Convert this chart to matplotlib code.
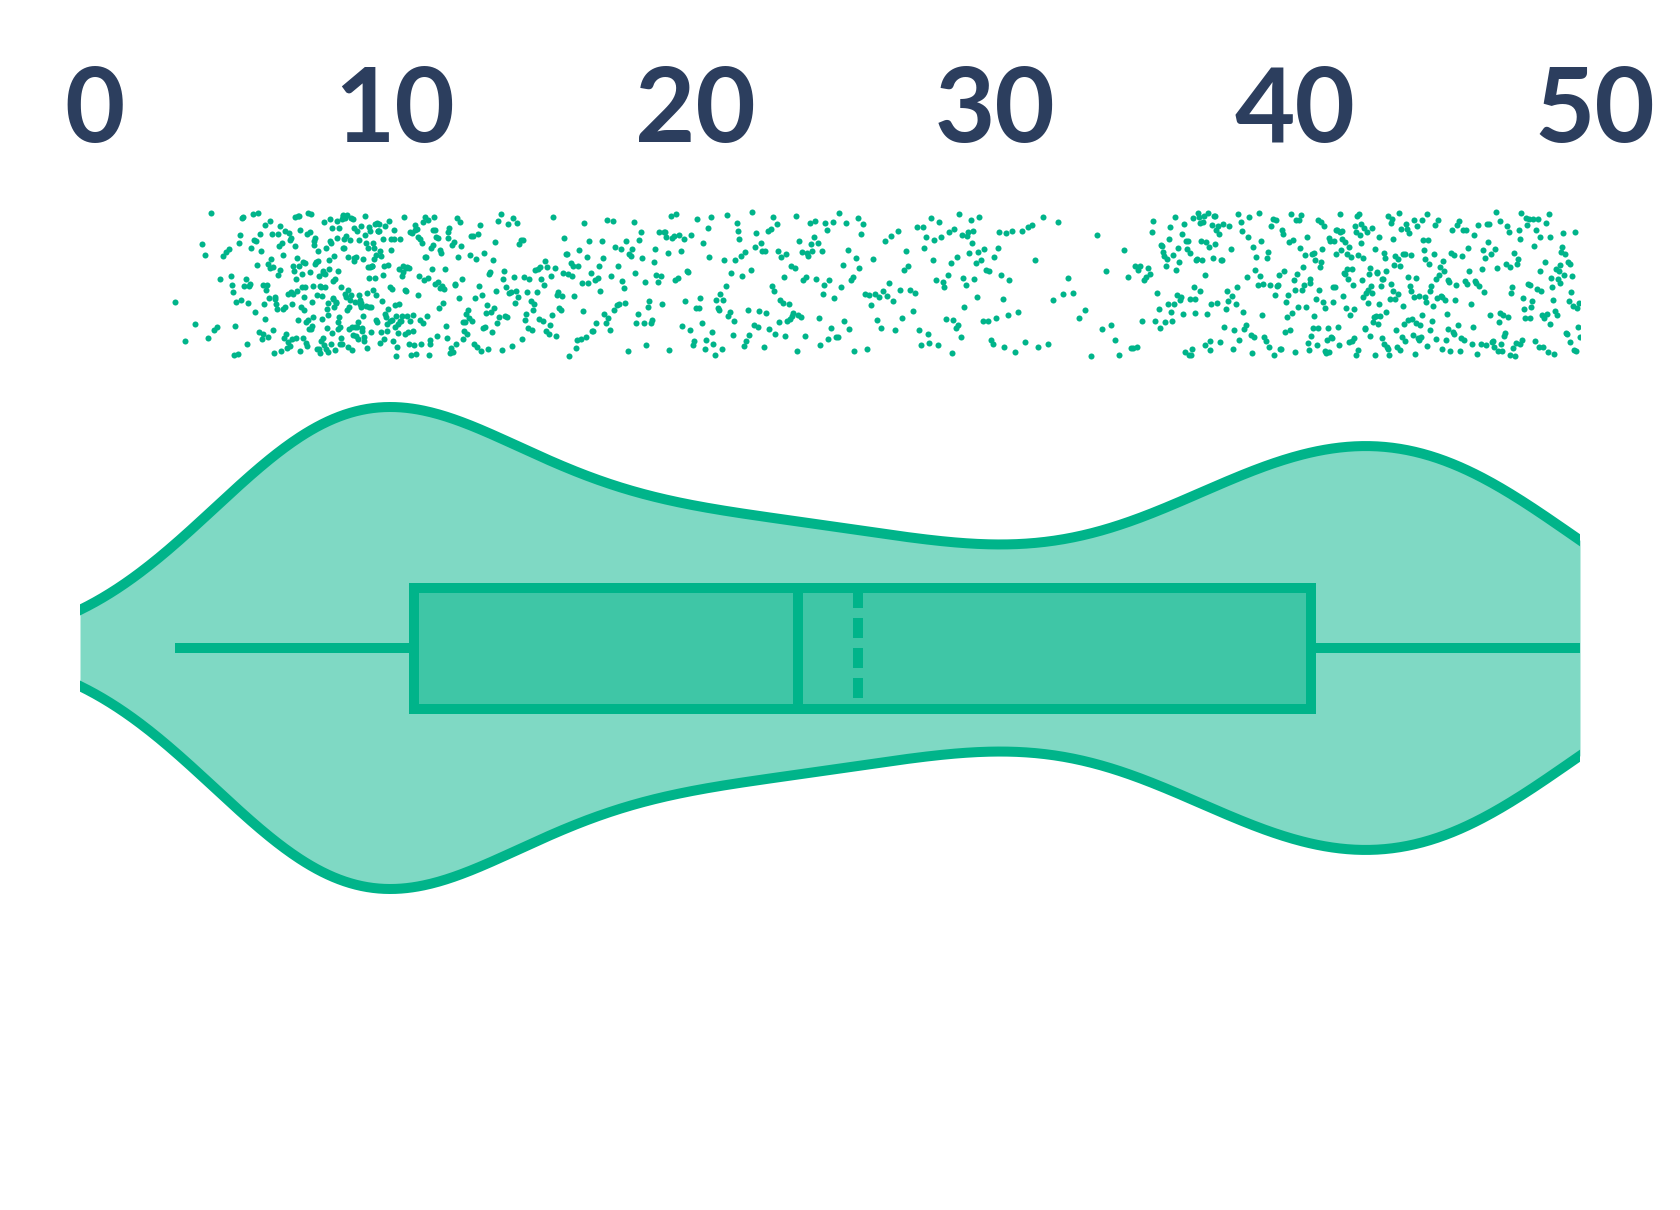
import numpy as np
import matplotlib.pyplot as plt
from matplotlib import mlab
from matplotlib.transforms import ScaledTranslation

# dots per 1-unit bin read off the strip (bin 0 = [0,1), ... bin 49 = [49,50))
bin_start = np.arange(0, 50)
bin_counts = [0, 0, 0, 3, 10, 26, 42, 56, 66, 64,
              52, 42, 34, 29, 27, 25, 24, 22, 21, 21,
              20, 22, 21, 25, 23, 18, 15, 14, 18, 24,
              18, 9, 6, 5, 7, 16, 31, 36, 24, 26,
              32, 38, 43, 43, 41, 35, 27, 33, 33, 33]
tick_vals = [0, 10, 20, 30, 40, 50]
tick_labels = ['0', '10', '20', '30', '40', '50']

values = np.concatenate([b + (np.arange(c) + 0.5) / c
                         for b, c in zip(bin_start, bin_counts) if c > 0])

green = '#00b48a'
navy = '#2c3e5e'

fig = plt.figure(figsize=(16.8, 12.1), dpi=100)
# y axis in pixel rows so the layout is easy to place
ax = fig.add_axes([80 / 1680, 0, 1500 / 1680, 1010 / 1210])
ax.set_xlim(0, 50)
ax.set_ylim(1210, 200)
ax.axis('off')

# violin
xs = np.linspace(0, 50, 800)
kde = mlab.GaussianKDE(values, bw_method=0.29)
dens = kde.evaluate(xs)
hw = dens / dens.max() * 241
ax.fill_between(xs, 648 - hw, 648 + hw, color=green, alpha=0.5, lw=0, zorder=1)
ax.plot(xs, 648 - hw, color=green, lw=7.2, zorder=2)
ax.plot(xs, 648 + hw, color=green, lw=7.2, zorder=2)

# box
ax.boxplot(values, orientation='horizontal', positions=[648], widths=121,
           whis=(0, 100), showmeans=True, meanline=True, showcaps=False,
           showfliers=False, patch_artist=True, manage_ticks=False,
           boxprops=dict(facecolor=(0, 180 / 255, 138 / 255, 0.5),
                         edgecolor=green, linewidth=7.2),
           whiskerprops=dict(color=green, linewidth=7.2, solid_capstyle='butt'),
           medianprops=dict(color=green, linewidth=7.2),
           meanprops=dict(color=green, linewidth=7.2, linestyle=(0, (2, 1))),
           zorder=3)

# jittered dots
rng = np.random.default_rng(7)
jit = rng.uniform(-1, 1, len(values))
ax.scatter(values, 284 + jit * 72, s=19, color=green, lw=0, zorder=2)

# top labels, nudged right like the original
shift = ScaledTranslation(15 / 100, 0, fig.dpi_scale_trans)
for v, lab in zip(tick_vals, tick_labels):
    ax.text(v, 142, lab, transform=ax.transData + shift, ha='center', va='baseline',
            fontsize=75, color=navy, family='Lato', fontweight='bold')

fig.savefig('out.png', dpi=100)
